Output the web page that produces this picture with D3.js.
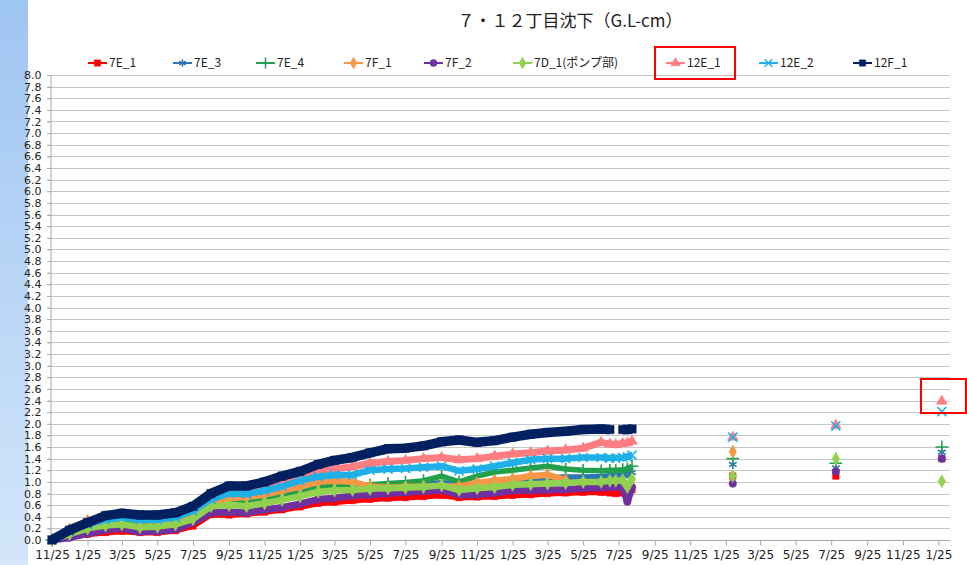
<!DOCTYPE html>
<html>
<head>
<meta charset="utf-8">
<script src="https://cdn.jsdelivr.net/npm/d3@7"></script>
<style>
  body { margin: 0; background: #fff; }
  svg { display: block; }
</style>
</head>
<body>
<script>
const width = 967
const height = 565
const margin = {top: 75, right: 17, bottom: 25, left: 50}

const title = "７・１２丁目沈下（G.L-cm）"
const names = ["7E_1", "7E_3", "7E_4", "7F_1", "7F_2", "7D_1(ポンプ部)", "12E_1", "12E_2", "12F_1"]

// dense survey dates (read roughly monthly off the picture)
const denseDates = [
  "2017-11-25", "2017-12-25", "2018-01-25", "2018-02-25", "2018-03-25", "2018-04-25",
  "2018-05-25", "2018-06-25", "2018-07-25", "2018-08-25", "2018-09-25", "2018-10-25",
  "2018-11-25", "2018-12-25", "2019-01-25", "2019-02-25", "2019-03-25", "2019-04-25",
  "2019-05-25", "2019-06-25", "2019-07-25", "2019-08-25", "2019-09-25", "2019-10-25",
  "2019-11-25", "2019-12-25", "2020-01-25", "2020-02-25", "2020-03-25", "2020-04-25",
  "2020-05-25", "2020-06-25", "2020-07-10", "2020-07-20", "2020-08-01", "2020-08-09",
  "2020-08-17"
]
// later single surveys
const surveyDates = ["2021-02-06", "2021-08-02", "2022-01-31"]

const d7E_1 = [0, 0.05, 0.10, 0.13, 0.15, 0.13, 0.13, 0.16, 0.24, 0.44, 0.43, 0.45, 0.48, 0.52, 0.57, 0.63, 0.65, 0.68, 0.70, 0.72, 0.73, 0.75, 0.77, 0.73, 0.74, 0.75, 0.77, 0.78, 0.80, 0.81, 0.82, 0.82, 0.81, 0.80, 0.81, 0.82, 0.87]
const d7E_3 = [0, 0.16, 0.26, 0.33, 0.36, 0.30, 0.30, 0.34, 0.45, 0.64, 0.72, 0.71, 0.75, 0.80, 0.88, 0.95, 0.97, 0.92, 0.93, 0.94, 0.95, 0.96, 0.98, 0.95, 0.97, 1.00, 1.02, 1.05, 1.07, 1.08, 1.08, 1.09, 1.10, 1.10, 1.12, 1.13, 1.16]
const d7E_4 = [0, 0.18, 0.28, 0.35, 0.37, 0.31, 0.31, 0.35, 0.46, 0.63, 0.70, 0.68, 0.73, 0.78, 0.85, 0.92, 0.93, 0.92, 0.95, 0.97, 0.99, 1.02, 1.10, 1.00, 1.10, 1.17, 1.20, 1.24, 1.27, 1.22, 1.20, 1.19, 1.20, 1.20, 1.21, 1.22, 1.27]
const d7F_1 = [0, 0.18, 0.33, 0.40, 0.41, 0.34, 0.33, 0.37, 0.46, 0.63, 0.72, 0.74, 0.78, 0.85, 0.92, 1.00, 1.02, 1.00, 0.92, 0.90, 0.91, 0.92, 0.92, 0.92, 0.98, 1.02, 1.05, 1.10, 1.12, 1.03, null, null, null, null, null, null, null]
const d7F_2 = [0, 0.04, 0.11, 0.17, 0.20, 0.14, 0.15, 0.18, 0.30, 0.47, 0.48, 0.47, 0.52, 0.56, 0.62, 0.70, 0.72, 0.76, 0.78, 0.80, 0.82, 0.84, 0.86, 0.78, 0.78, 0.81, 0.85, 0.85, 0.86, 0.87, 0.89, 0.90, 0.91, 0.91, 0.91, 0.66, 0.91]
const d7D_1 = [0, 0.10, 0.20, 0.25, 0.27, 0.22, 0.23, 0.27, 0.36, 0.58, 0.60, 0.58, 0.63, 0.69, 0.75, 0.83, 0.85, 0.86, 0.88, 0.89, 0.90, 0.91, 0.94, 0.86, 0.89, 0.91, 0.95, 0.96, 0.97, 0.98, 1.00, 1.00, 1.02, 1.02, 1.03, 0.91, 1.05]
const d12E_1 = [0, 0.15, 0.30, 0.38, 0.42, 0.37, 0.37, 0.42, 0.54, 0.75, 0.85, 0.86, 0.90, 0.97, 1.08, 1.17, 1.22, 1.26, 1.32, 1.35, 1.37, 1.40, 1.42, 1.38, 1.40, 1.44, 1.48, 1.50, 1.53, 1.55, 1.58, 1.68, 1.65, 1.64, 1.66, 1.67, 1.70]
const d12E_2 = [0, 0.14, 0.27, 0.35, 0.39, 0.35, 0.35, 0.39, 0.50, 0.70, 0.80, 0.79, 0.85, 0.92, 1.02, 1.09, 1.12, 1.12, 1.20, 1.22, 1.23, 1.25, 1.27, 1.19, 1.22, 1.27, 1.33, 1.38, 1.40, 1.40, 1.42, 1.42, 1.41, 1.41, 1.42, 1.43, 1.46]
const d12F_1 = [0, 0.17, 0.30, 0.42, 0.46, 0.43, 0.43, 0.47, 0.58, 0.80, 0.93, 0.93, 1.00, 1.10, 1.18, 1.30, 1.37, 1.42, 1.50, 1.57, 1.58, 1.62, 1.69, 1.72, 1.68, 1.71, 1.77, 1.82, 1.85, 1.87, 1.90, 1.91, 1.90, null, 1.90, 1.90, 1.91]

const p7E_1 = [1.10, 1.10, 1.40]
const p7E_3 = [1.30, 1.24, 1.51]
const p7E_4 = [1.40, 1.32, 1.60]
const p7F_1 = [1.52, null, null]
const p7F_2 = [0.97, 1.18, 1.40]
const p7D_1 = [1.10, 1.40, 1.01]
const p12E_1 = [1.77, 1.97, 2.39]
const p12E_2 = [1.77, 1.96, 2.21]
const p12F_1 = [null, null, null]

const dense = [d7E_1, d7E_3, d7E_4, d7F_1, d7F_2, d7D_1, d12E_1, d12E_2, d12F_1]
const survey = [p7E_1, p7E_3, p7E_4, p7F_1, p7F_2, p7D_1, p12E_1, p12E_2, p12F_1]

// x tick labels every two months, y ticks every 0.2
const xTickDates = d3.range(26).map(i => new Date(2017, 10 + 2 * i, 25))
const yTicks = d3.range(0, 41).map(i => i / 5)

// styling per series
const colors = ["#ff0000", "#2e75b6", "#22a04b", "#f79646", "#7030a0", "#92d050", "#ff7c80", "#1fb0e8", "#002060"]
const symbols = [d3.symbolSquare, d3.symbolAsterisk, d3.symbolPlus, d3.symbolDiamond, d3.symbolCircle, d3.symbolDiamond, d3.symbolTriangle, d3.symbolX, d3.symbolSquare]
const strokeSym = [false, true, true, false, false, false, false, true, false]
const lineW = [6, 6, 5.5, 6.5, 7, 6.5, 7, 6.5, 9.5]
const symSize = [42, 55, 55, 50, 45, 50, 50, 55, 70]
const legendX = [88, 173, 256, 344, 424, 513, 666, 759, 853]

const parse = d3.timeParse("%Y-%m-%d")
const fmt = d3.timeFormat("%-m/%-d")

const svg = d3.select("body").append("svg")
    .attr("width", width)
    .attr("height", height)
    .attr("xmlns", "http://www.w3.org/2000/svg")

// left blue strip
const grad = svg.append("defs").append("linearGradient")
    .attr("id", "strip").attr("x1", 0).attr("y1", 0).attr("x2", 0).attr("y2", 1)
grad.append("stop").attr("offset", "0%").attr("stop-color", "#9fc5f2")
grad.append("stop").attr("offset", "100%").attr("stop-color", "#d3e6fa")
svg.append("rect").attr("x", 0).attr("y", 0).attr("width", 28).attr("height", height).attr("fill", "url(#strip)")

const x = d3.scaleTime()
    .domain([parse("2017-11-25"), parse("2022-02-14")])
    .range([margin.left + 2, width - margin.right])

const y = d3.scaleLinear()
    .domain([0, 8])
    .range([height - margin.bottom, margin.top])

// grid
svg.append("g")
    .selectAll("line")
    .data(yTicks.filter(d => d > 0))
    .join("line")
    .attr("x1", margin.left - 3)
    .attr("x2", width - margin.right)
    .attr("y1", d => Math.round(y(d)) + 0.5)
    .attr("y2", d => Math.round(y(d)) + 0.5)
    .attr("stroke", "#c6c6c6")

// y axis
const yAxis = svg.append("g")
    .attr("transform", `translate(${margin.left + 0.5},0)`)
    .call(d3.axisLeft(y).tickValues(yTicks).tickFormat(d3.format(".1f")).tickSize(3).tickPadding(6))
yAxis.select(".domain").attr("stroke", "#a6a6a6")
yAxis.selectAll(".tick line").attr("stroke", "#a6a6a6")
yAxis.selectAll("text")
    .attr("fill", "#222")
    .style("font", "11px 'DejaVu Sans', sans-serif")

// x axis
const xAxis = svg.append("g")
    .attr("transform", `translate(0,${Math.round(y(0)) + 0.5})`)
    .call(d3.axisBottom(x).tickValues(xTickDates).tickFormat(fmt).tickSize(5).tickPadding(5))
xAxis.select(".domain").attr("stroke", "#a6a6a6").attr("d", `M${margin.left},0H${width - margin.right}`)
xAxis.selectAll(".tick line").attr("stroke", "#a6a6a6")
xAxis.selectAll("text")
    .attr("fill", "#222")
    .style("font", "12px 'DejaVu Sans', sans-serif")

// series: lines with markers, drawn in legend order
const line = d3.line()
    .defined(d => d.v != null)
    .x(d => x(d.date))
    .y(d => y(d.v))

const plot = svg.append("g")
names.forEach((name, i) => {
  const pts = denseDates.map((s, j) => ({date: parse(s), v: dense[i][j]}))
  const later = surveyDates.map((s, j) => ({date: parse(s), v: survey[i][j]}))
  const g = plot.append("g")
  g.append("path")
      .datum(pts)
      .attr("fill", "none")
      .attr("stroke", colors[i])
      .attr("stroke-width", lineW[i])
      .attr("stroke-linejoin", "round")
      .attr("d", line)
  const sym = d3.symbol(symbols[i], symSize[i])
  g.selectAll("path.mk")
      .data(pts.concat(later).filter(d => d.v != null))
      .join("path")
      .attr("class", "mk")
      .attr("transform", d => `translate(${x(d.date)},${y(d.v)})`)
      .attr("d", sym)
      .attr("fill", strokeSym[i] ? "none" : colors[i])
      .attr("stroke", colors[i])
      .attr("stroke-width", strokeSym[i] ? 1.6 : 0.5)
})

// title
svg.append("text")
    .attr("x", 570)
    .attr("y", 27)
    .attr("text-anchor", "middle")
    .attr("fill", "#222")
    .style("font", "17px 'Noto Sans CJK JP', sans-serif")
    .text(title)

// legend
const legend = svg.append("g").attr("transform", "translate(0,63)")
names.forEach((name, i) => {
  const it = legend.append("g").attr("transform", `translate(${legendX[i]},0)`)
  it.append("line").attr("x1", 0).attr("x2", 19).attr("stroke", colors[i]).attr("stroke-width", 2)
  it.append("path")
      .attr("transform", "translate(9.5,0)")
      .attr("d", d3.symbol(symbols[i], 40))
      .attr("fill", strokeSym[i] ? "none" : colors[i])
      .attr("stroke", colors[i])
      .attr("stroke-width", strokeSym[i] ? 1.5 : 0.5)
  it.append("text")
      .attr("x", 21)
      .attr("dy", "0.35em")
      .attr("fill", "#222")
      .style("font", "12px 'Noto Sans CJK JP', sans-serif")
      .text(name)
})

// red highlight boxes
svg.append("rect").attr("x", 655).attr("y", 47).attr("width", 80).attr("height", 32)
    .attr("fill", "none").attr("stroke", "#ff0000").attr("stroke-width", 2)
svg.append("rect").attr("x", 921).attr("y", 379).attr("width", 45).attr("height", 34)
    .attr("fill", "none").attr("stroke", "#ff0000").attr("stroke-width", 2)
</script>
</body>
</html>
